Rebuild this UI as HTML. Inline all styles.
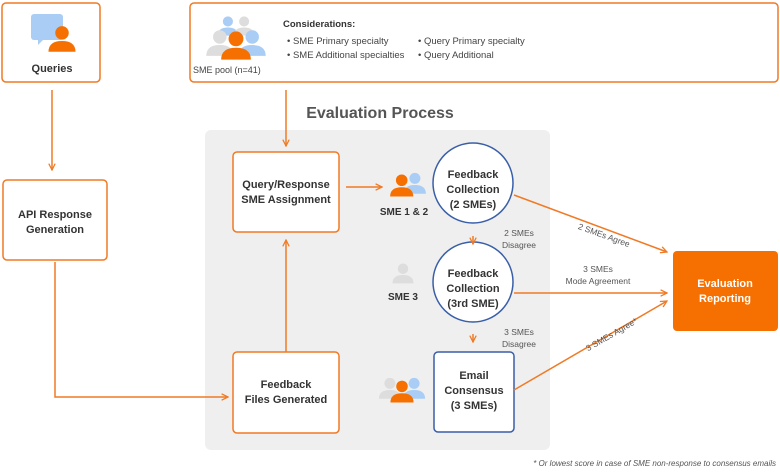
<!DOCTYPE html>
<html><head><meta charset="utf-8"><style>
body{margin:0;width:780px;height:471px;background:#fff;overflow:hidden;font-family:"Liberation Sans",sans-serif}
svg text{font-family:"Liberation Sans",sans-serif}
</style></head><body>
<svg width="780" height="471" viewBox="0 0 780 471" xmlns="http://www.w3.org/2000/svg">
<defs>
<marker id="a" viewBox="0 0 10 10" refX="9" refY="5" markerWidth="8" markerHeight="8" orient="auto-start-reverse" markerUnits="userSpaceOnUse"><path d="M1,1 L9,5 L1,9" fill="none" stroke="#f07a25" stroke-width="1.6"/></marker>
<g id="p"><circle cx="0" cy="-6" r="5"/><path d="M-10,8 Q-10,0 0,0 Q10,0 10,8 Z"/></g>
</defs>
<rect x="205" y="130" width="345" height="320" rx="6" fill="#efefef"/>
<g fill="#fff" stroke="#f07a25" stroke-width="1.5">
<rect x="2" y="3" width="98" height="79" rx="4"/>
<rect x="190" y="3" width="588" height="79" rx="4"/>
<rect x="3" y="180" width="104" height="80" rx="4"/>
<rect x="233" y="152" width="106" height="80" rx="4"/>
<rect x="233" y="352" width="106" height="81" rx="4"/>
</g>
<g fill="#fff" stroke="#3a5fa8" stroke-width="1.5">
<circle cx="473" cy="183" r="40"/><circle cx="473" cy="282" r="40"/>
<rect x="434" y="352" width="80" height="80" rx="4"/>
</g>
<rect x="673" y="251" width="105" height="80" rx="4" fill="#f57000"/>
<g stroke="#f07a25" stroke-width="1.5" fill="none" marker-end="url(#a)">
<path d="M52,90 V170"/><path d="M55,262 V397 H228"/><path d="M286,352 V240"/><path d="M286,90 V146"/>
<path d="M346,187 H382"/><path d="M473,236 V244"/><path d="M473,334 V342"/>
<path d="M514,195 L667,252"/><path d="M514,293 H667"/><path d="M514,390 L667,301"/>
</g>
<!-- icons -->
<rect x="31" y="14" width="32" height="26" rx="3" fill="#a9cdf5"/><path d="M38,39 v6 l6,-6z" fill="#a9cdf5"/>
<g fill="#f57000" transform="translate(62,41) scale(1.35)"><use href="#p"/></g>
<g transform="translate(236,41) scale(1.35)"><g fill="#a9cdf5" transform="translate(-6,-10) scale(.75)"><use href="#p"/></g><g fill="#ddd" transform="translate(6,-10) scale(.75)"><use href="#p"/></g><g fill="#ddd" transform="translate(-12,3)"><use href="#p"/></g><g fill="#a9cdf5" transform="translate(12,3)"><use href="#p"/></g><g fill="#f57000" transform="translate(0,5) scale(1.1)"><use href="#p"/></g></g>
<g transform="translate(405,185) scale(1.1)"><g fill="#a9cdf5" transform="translate(9,0)"><use href="#p"/></g><g fill="#f57000" transform="translate(-3,2) scale(1.05)"><use href="#p"/></g></g>
<g fill="#ddd" transform="translate(403,275) scale(1.05)"><use href="#p"/></g>
<g transform="translate(402,390) scale(1.1)"><g fill="#ddd" transform="translate(-11,0)"><use href="#p"/></g><g fill="#a9cdf5" transform="translate(11,0)"><use href="#p"/></g><g fill="#f57000" transform="translate(0,3) scale(1.05)"><use href="#p"/></g></g>
<g font-size="11" fill="#333" font-weight="bold" text-anchor="middle">
<text x="52" y="72">Queries</text>
<text x="55" y="218">API Response</text><text x="55" y="233">Generation</text>
<text x="286" y="188">Query/Response</text><text x="286" y="203">SME Assignment</text>
<text x="286" y="388">Feedback</text><text x="286" y="403">Files Generated</text>
<text x="473" y="178">Feedback</text><text x="473" y="193">Collection</text><text x="473" y="208">(2 SMEs)</text>
<text x="473" y="277">Feedback</text><text x="473" y="292">Collection</text><text x="473" y="307">(3rd SME)</text>
<text x="474" y="379">Email</text><text x="474" y="394">Consensus</text><text x="474" y="409">(3 SMEs)</text>
<text x="404" y="215" font-size="10">SME 1 &amp; 2</text><text x="403" y="300" font-size="10">SME 3</text>
<text x="725" y="287" fill="#fff">Evaluation</text><text x="725" y="302" fill="#fff">Reporting</text>
<text x="380" y="118" font-size="16" fill="#555">Evaluation Process</text>
</g>
<text x="283" y="27" font-size="9.5" font-weight="bold" fill="#333">Considerations:</text>
<g font-size="9.5" fill="#444">
<text x="287" y="44">•  SME Primary specialty</text><text x="287" y="58">•  SME Additional specialties</text>
<text x="418" y="44">•  Query Primary specialty</text><text x="418" y="58">•  Query Additional</text>
<text x="193" y="73" font-size="9">SME pool (n=41)</text>
</g>
<g font-size="8.5" fill="#555" text-anchor="middle">
<text x="519" y="236">2 SMEs</text><text x="519" y="248">Disagree</text>
<text x="519" y="335">3 SMEs</text><text x="519" y="347">Disagree</text>
<text x="598" y="272">3 SMEs</text><text x="598" y="284">Mode Agreement</text>
<text transform="translate(603,238) rotate(20)">2 SMEs Agree</text>
<text transform="translate(613,337) rotate(-30)">3 SMEs Agree*</text>
<text x="776" y="466" text-anchor="end" font-size="8" font-style="italic">*   Or lowest score in case of SME non-response to consensus emails</text>
</g>
</svg>
</body></html>
